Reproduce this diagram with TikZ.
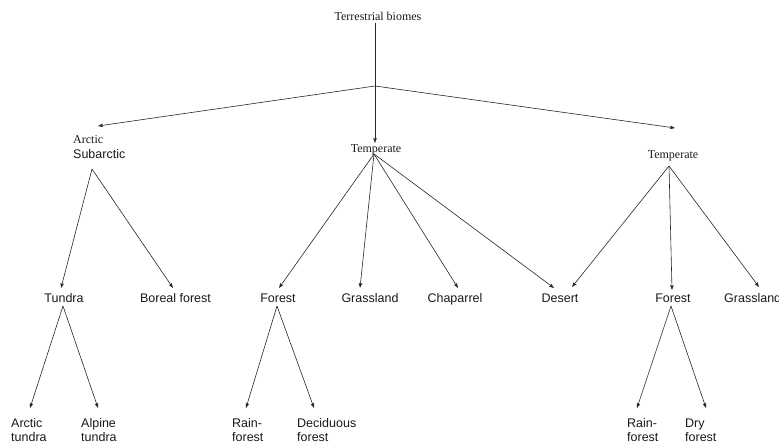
\documentclass[tikz,border=0pt]{standalone}
\usepackage{fontspec}
\setmainfont{Liberation Serif}
\newfontfamily\arialfont{Liberation Sans}
\usetikzlibrary{arrows.meta}
\begin{document}
\begin{tikzpicture}[x=1pt,y=-1pt,
  serif/.style={font=\fontsize{12}{14}\selectfont, inner sep=0pt, anchor=base, text=black!90},
  sans/.style={font=\arialfont\fontsize{12.5}{14}\selectfont, inner sep=0pt, anchor=base, text=black!90},
  leaf/.style={font=\arialfont\fontsize{12.5}{14}\selectfont, inner sep=0pt, anchor=north west, align=left, text=black!90},
  ln/.style={draw=black!85, line width=0.6pt},
  arr/.style={ln, -{Stealth[length=5pt,width=3.6pt,inset=1pt]}}]
\useasboundingbox (0,0) rectangle (779,444);

% ---- nodes
\node[serif] (root) at (378,21) {Terrestrial biomes};
\node[serif, anchor=base west] (arctic) at (73,143) {Arctic};
\node[sans, anchor=base west] (subarctic) at (73,158) {Subarctic};
\node[serif] (tempM) at (376,152) {Temperate};
\node[serif] (tempR) at (673,158.5) {Temperate};

\node[sans] (tundra) at (64,302) {Tundra};
\node[sans] (boreal) at (175.5,302) {Boreal forest};
\node[sans] (forestM) at (278,302) {Forest};
\node[sans] (grassM) at (370,302) {Grassland};
\node[sans] (chap) at (455,302) {Chaparrel};
\node[sans] (desert) at (560,302) {Desert};
\node[sans] (forestR) at (673,302) {Forest};
\node[sans, anchor=base west] (grassR) at (724,302) {Grassland};

\node[leaf] (arctund) at (11,418.5) {Arctic\\tundra};
\node[leaf] (alptund) at (81,418.5) {Alpine\\tundra};
\node[leaf] (rainM) at (232,418.5) {Rain-\\forest};
\node[leaf] (decid) at (297,418.5) {Deciduous\\forest};
\node[leaf] (rainR) at (627,418.5) {Rain-\\forest};
\node[leaf] (dry) at (685,418.5) {Dry\\forest};

% ---- connector points
\coordinate (rootS) at (375,23);
\coordinate (split) at (375,86);
\coordinate (arcTip) at (98,126);
\coordinate (tempRTip) at (675,128);
\coordinate (tempMTip) at (375,143);
\coordinate (arcApex) at (92,169);
\coordinate (tempMApex) at (374,154);
\coordinate (tempRApex) at (669,166);
\coordinate (tundraApex) at (63,306);
\coordinate (forestMApex) at (277,306);
\coordinate (forestRApex) at (671,306);

% ---- connectors, level 1
\draw[ln] (rootS) -- (split);
\draw[arr] (split) -- (tempMTip);
\draw[arr] (split) -- (arcTip);
\draw[arr] (split) -- (tempRTip);

% ---- level 2
\draw[arr] (arcApex) -- (61,288);
\draw[arr] (arcApex) -- (173,288);

\draw[arr] (tempMApex) -- (279,288);
\draw[arr] (tempMApex) -- (360,288);
\draw[arr] (tempMApex) -- (458,288);
\draw[arr] (tempMApex) -- (554,288);

\draw[arr] (tempRApex) -- (572,287);
\draw[arr] (tempRApex) -- (672,290);
\draw[arr] (tempRApex) -- (759,287);

% ---- level 3
\draw[arr] (tundraApex) -- (30,408);
\draw[arr] (tundraApex) -- (98,408);
\draw[arr] (forestMApex) -- (246,408);
\draw[arr] (forestMApex) -- (314,408);
\draw[arr] (forestRApex) -- (637,408);
\draw[arr] (forestRApex) -- (706,408);
\end{tikzpicture}
\end{document}
